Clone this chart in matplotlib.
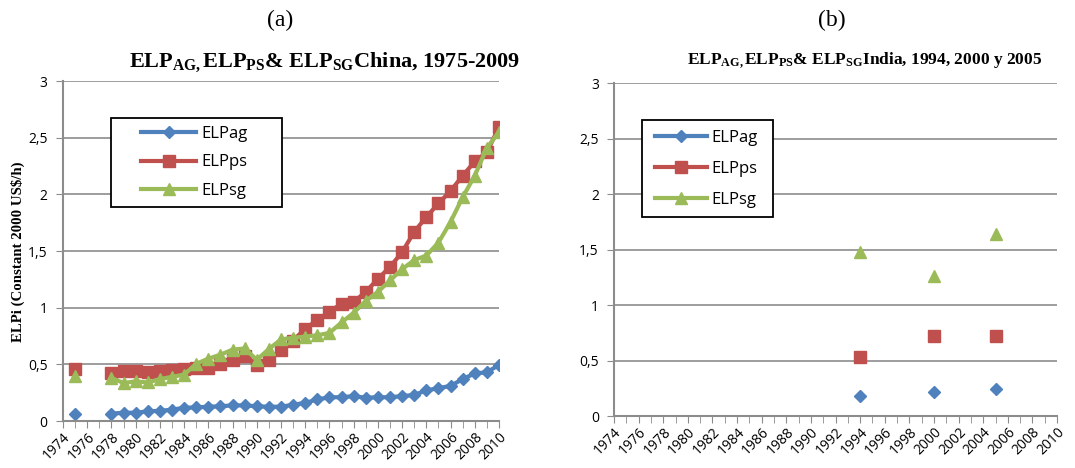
import numpy as np
import pandas as pd
import matplotlib
matplotlib.use("Agg")
import matplotlib.pyplot as plt
from matplotlib.lines import Line2D
from matplotlib.patches import Rectangle
from matplotlib.ticker import MultipleLocator, FixedLocator, FuncFormatter

plt.rcParams["mathtext.fontset"] = "custom"
plt.rcParams["mathtext.rm"] = "Liberation Serif"
plt.rcParams["mathtext.bf"] = "Liberation Serif:bold"
plt.rcParams["mathtext.it"] = "Liberation Serif:italic"

# China, 1975 and 1978-2010 (Excel category positions)
china_years = [1975] + list(range(1978, 2011))
china_ag = [0.065, 0.065, 0.073, 0.073, 0.085, 0.09, 0.10, 0.117, 0.12, 0.126,
            0.13, 0.138, 0.138, 0.13, 0.126, 0.126, 0.144, 0.16, 0.19, 0.21,
            0.21, 0.22, 0.205, 0.21, 0.21, 0.22, 0.23, 0.27, 0.29, 0.31,
            0.37, 0.42, 0.43, 0.495]
china_ps = [0.455, 0.42, 0.44, 0.445, 0.43, 0.437, 0.45, 0.463, 0.47, 0.47,
            0.50, 0.54, 0.57, 0.495, 0.54, 0.63, 0.71, 0.815, 0.89, 0.965,
            1.035, 1.05, 1.14, 1.255, 1.36, 1.49, 1.67, 1.80, 1.92, 2.03,
            2.165, 2.29, 2.37, 2.595]
china_sg = [0.40, 0.38, 0.335, 0.35, 0.34, 0.37, 0.39, 0.41, 0.505, 0.55,
            0.585, 0.63, 0.64, 0.54, 0.635, 0.72, 0.735, 0.745, 0.757, 0.777,
            0.87, 0.955, 1.06, 1.14, 1.24, 1.34, 1.42, 1.46, 1.574, 1.757,
            1.975, 2.165, 2.41, 2.55]

# India, three survey years
india_years = [1994, 2000, 2005]
india_ag = [0.18, 0.215, 0.24]
india_ps = [0.53, 0.72, 0.72]
india_sg = [1.48, 1.26, 1.64]

series_names = ["ELPag", "ELPps", "ELPsg"]
colors = ["#4F81BD", "#C0504D", "#9BBB59"]
markers = ["D", "s", "^"]
msizes = [6.5, 8, 8]

tick_font = "Open Sans"
grid_col = "#8c8c8c"

fig = plt.figure(figsize=(10.75, 4.68), dpi=100)
ax_a = fig.add_axes([0.0586, 0.1004, 0.4056, 0.7265])
ax_b = fig.add_axes([0.5712, 0.1111, 0.4121, 0.7115])


def style_axis(ax):
    ax.set_xlim(1974, 2010)
    ax.set_ylim(0, 3)
    ax.yaxis.set_major_locator(MultipleLocator(0.5))
    ax.yaxis.set_major_formatter(FuncFormatter(
        lambda v, p: ("%g" % v).replace(".", ",")))
    ax.xaxis.set_major_locator(FixedLocator(list(range(1974, 2011, 2))))
    ax.xaxis.set_minor_locator(FixedLocator(list(range(1974, 2011))))
    ax.grid(axis="y", color=grid_col, lw=1.2)
    ax.set_axisbelow(True)
    for s in ["top", "right"]:
        ax.spines[s].set_visible(False)
    for s in ["left", "bottom"]:
        ax.spines[s].set_color(grid_col)
        ax.spines[s].set_linewidth(1.5)
    ax.tick_params(axis="y", length=5, color=grid_col, labelsize=10, pad=6)
    ax.tick_params(axis="x", which="both", length=5, color=grid_col,
                   labelsize=10, pad=1)
    for lab in ax.get_xticklabels() + ax.get_yticklabels():
        lab.set_fontfamily(tick_font)
    for lab in ax.get_xticklabels():
        lab.set_rotation(45)
        lab.set_ha("right")
        lab.set_rotation_mode("anchor")


def boxed_legend(ax, handles, anchor, box, hl, ls):
    # legend entries without frame, plus a plain rectangle as the box
    ax.legend(handles, series_names, loc="upper left", bbox_to_anchor=anchor,
              bbox_transform=fig.transFigure, borderaxespad=0, borderpad=0,
              frameon=False, handlelength=hl, handletextpad=0.3,
              labelspacing=ls, prop={"family": tick_font, "size": 12})
    ax.add_patch(Rectangle(box[:2], box[2], box[3], transform=fig.transFigure,
                           facecolor="white", edgecolor="black", lw=1.3,
                           clip_on=False, zorder=4.5))


# (a) China: lines with gaps for missing years
full = range(1975, 2011)
lines_a = []
for vals, c, m, ms in zip([china_ag, china_ps, china_sg], colors, markers,
                          msizes):
    s = pd.Series(vals, index=china_years).reindex(full)
    ln, = ax_a.plot(s.index, s.values, color=c, lw=3, marker=m, ms=ms)
    lines_a.append(ln)
style_axis(ax_a)
boxed_legend(ax_a, lines_a, (0.1312, 0.731),
             (0.1033, 0.5577, 0.1591, 0.1902), 3.3, 0.75)

# (b) India: markers only
for vals, c, m, ms in zip([india_ag, india_ps, india_sg], colors, markers,
                          msizes):
    ax_b.plot(india_years, vals, color=c, ls="none", marker=m, ms=ms)
style_axis(ax_b)
handles = [Line2D([], [], color=c, lw=3, marker=m, ms=ms)
           for c, m, ms in zip(colors, markers, msizes)]
boxed_legend(ax_b, handles, (0.6093, 0.723),
             (0.5972, 0.5363, 0.1219, 0.2073), 3.1, 0.9)

# titles and labels
serif = "Liberation Serif"
fig.text(0.261, 0.957, "(a)", family=serif, fontsize=17, ha="center",
         va="center")
fig.text(0.774, 0.957, "(b)", family=serif, fontsize=17, ha="center",
         va="center")
fig.text(0.302, 0.867,
         r"ELP$_{\mathbf{AG,}}$ELP$_{\mathbf{PS}}$& ELP$_{\mathbf{SG}}$China, 1975-2009",
         family=serif, fontweight="bold", fontsize=16, ha="center",
         va="center")
fig.text(0.804, 0.872,
         r"ELP$_{\mathbf{AG,}}$ELP$_{\mathbf{PS}}$& ELP$_{\mathbf{SG}}$India, 1994, 2000 y 2005",
         family=serif, fontweight="bold", fontsize=12.5, ha="center",
         va="center")
fig.text(0.017, 0.462, "ELPi (Constant 2000 US$/h)", family=serif,
         fontweight="bold", fontsize=10.7, rotation=90, ha="center",
         va="center")

fig.savefig("out.png", dpi=100)
